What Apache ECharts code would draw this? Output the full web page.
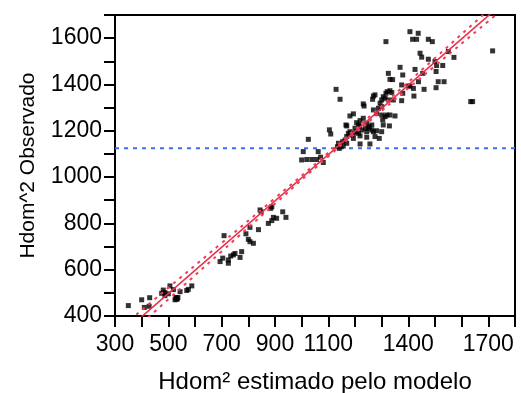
<!DOCTYPE html>
<html>
<head>
<meta charset="utf-8">
<script src="https://cdn.jsdelivr.net/npm/echarts@6/dist/echarts.min.js"></script>
<style>
html,body{margin:0;padding:0;background:#fff;}
#c{width:521px;height:393px;}
</style>
</head>
<body>
<div id="c"></div>
<script>
// ---- data ----
var xTickLabels = [300, 500, 700, 900, 1100, 1400, 1700];
var yTickLabels = [400, 600, 800, 1000, 1200, 1400, 1600];
var meanObserved = 1125;

var pointsLow = [
  [350,445],[400,470],[430,479],[410,437],[428,442],
  [475,498],[487,501],[481,512],[506,530],[519,514],[500,496],[487,488],
  [525,470],[533,472],[528,480],[536,480],[531,476],
  [544,505],[569,510],[575,515],[588,530]
];
var pointsMid = [
  [709,747],[694,635],[704,650],[725,628],[725,642],[734,659],[744,664],[750,670],
  [769,653],[775,678],[791,755],[806,783],[800,731],[806,721],[819,714],[838,773],
  [844,858],[848,850],[884,865],[888,872],[875,800],[888,812],[894,826],[906,822],
  [929,850],[941,826]
];
var pointsHigh = [
  [1000,1074],[1019,1076],[1038,1076],[1056,1076],[1071,1086],[1081,1063],
  [1006,1110],[1062,1110],[1025,1163],[1104,1204],[1109,1186],[1166,1225],
  [1406,1628],[1437,1621],[1416,1595],[1431,1595],[1475,1595],[1490,1585],[1316,1585],
  [1444,1535],[1450,1518],[1475,1509],[1500,1499],[1550,1542],[1571,1517],[1716,1545],
  [1504,1456],[1506,1482],[1529,1482],[1504,1386],[1512,1412],[1534,1412],
  [1459,1379],[1421,1350],[1369,1474],[1425,1465],[1325,1448],[1331,1422],[1341,1421],
  [1379,1441],[1400,1393],[1406,1393],[1419,1383],[1454,1448],[1438,1412],
  [1375,1398],[1379,1362],[1375,1330],
  [1306,1347],[1316,1362],[1321,1369],[1331,1373],[1338,1365],[1269,1350],[1275,1355],
  [1300,1333],[1313,1340],[1325,1333],[1344,1333],
  [1266,1336],[1231,1316],[1234,1307],
  [1294,1319],[1288,1297],[1300,1304],
  [1269,1290],[1281,1275],[1300,1268],[1313,1261],[1319,1268],[1304,1247],
  [1181,1264],[1194,1273],
  [1206,1235],[1213,1225],[1219,1244],[1231,1254],[1244,1232],[1254,1218],[1263,1225],
  [1169,1221],[1200,1211],[1216,1221],
  [1331,1268],[1350,1264],[1306,1225],[1329,1221],
  [1175,1189],[1181,1196],[1188,1182],[1194,1189],[1206,1196],[1213,1189],[1225,1203],
  [1238,1211],[1244,1196],[1250,1211],[1263,1203],[1269,1196],[1281,1200],[1300,1196],
  [1169,1175],[1194,1167],[1219,1178],[1244,1172],[1275,1175],[1291,1167],
  [1138,1146],[1144,1131],[1154,1153],[1163,1160],[1169,1146],
  [1219,1143],[1256,1143],
  [1129,1379],[1144,1336],
  [1134,1131],[1141,1124],[1146,1138],[1156,1134],
  [1634,1326],[1641,1326]
];
var regLine = [[380,377],[1750,1747]];
var upperCI = [[380,406],[500,522],[700,715],[900,909],[1100,1105],[1300,1308],[1500,1514],[1700,1721],[1750,1772]];
var lowerCI = [[380,348],[500,472],[700,679],[900,885],[1100,1089],[1300,1286],[1500,1480],[1700,1673],[1750,1722]];

// ---- chart ----
var chart = echarts.init(document.getElementById('c'), null, {renderer:'canvas'});
var FONT = 'Liberation Sans, Arial, sans-serif';
var meanLine = [[300, meanObserved],[1800, meanObserved]];

chart.setOption({
  animation: false,
  backgroundColor: '#fff',
  grid: {left:115, top:15, right:6, bottom:77, containLabel:false, outerBoundsMode:'none',
         show:true, borderColor:'#000', borderWidth:2, backgroundColor:'transparent'},
  xAxis: {
    type:'value', min:300, max:1800, interval:100,
    name:'Hdom\u00b2 estimado pelo modelo', nameLocation:'middle', nameGap:54,
    nameTextStyle:{color:'#000', fontSize:24, fontFamily:FONT},
    axisLine:{show:true, onZero:false, lineStyle:{color:'#000', width:2}},
    axisTick:{show:true, length:11, lineStyle:{color:'#000', width:2}},
    axisLabel:{color:'#000', fontSize:23, fontFamily:FONT, margin:17, showMinLabel:true, showMaxLabel:true,
      formatter:function(v){ return xTickLabels.indexOf(v) >= 0 ? String(v) : ''; }},
    splitLine:{show:false}
  },
  yAxis: {
    type:'value', min:400, max:1700, interval:100,
    name:'Hdom^2 Observado', nameLocation:'middle', nameGap:76,
    nameTextStyle:{color:'#000', fontSize:21, fontFamily:FONT},
    axisLine:{show:true, onZero:false, lineStyle:{color:'#000', width:2}},
    axisTick:{show:true, length:11, lineStyle:{color:'#000', width:2}},
    axisLabel:{color:'#000', fontSize:23, fontFamily:FONT, margin:13, showMinLabel:true, showMaxLabel:true,
      formatter:function(v){ return yTickLabels.indexOf(v) >= 0 ? String(v) : ''; }},
    splitLine:{show:false}
  },
  series: [
    {type:'line', data:meanLine, symbol:'none', silent:true,
     lineStyle:{color:'#3b6ff0', width:2, type:[4,5]}, z:1},
    {type:'scatter', data:pointsLow.concat(pointsMid, pointsHigh), symbol:'rect', symbolSize:5,
     itemStyle:{color:'#000'}, z:2},
    {type:'line', data:regLine, symbol:'none', clip:true, silent:true,
     lineStyle:{color:'#e8334a', width:1.6}, z:3},
    {type:'line', data:upperCI, symbol:'none', smooth:true, clip:true, silent:true,
     lineStyle:{color:'#f03c5a', width:2, type:[3,5]}, z:3},
    {type:'line', data:lowerCI, symbol:'none', smooth:true, clip:true, silent:true,
     lineStyle:{color:'#f03c5a', width:2, type:[3,5]}, z:3}
  ]
});
</script>
</body>
</html>
